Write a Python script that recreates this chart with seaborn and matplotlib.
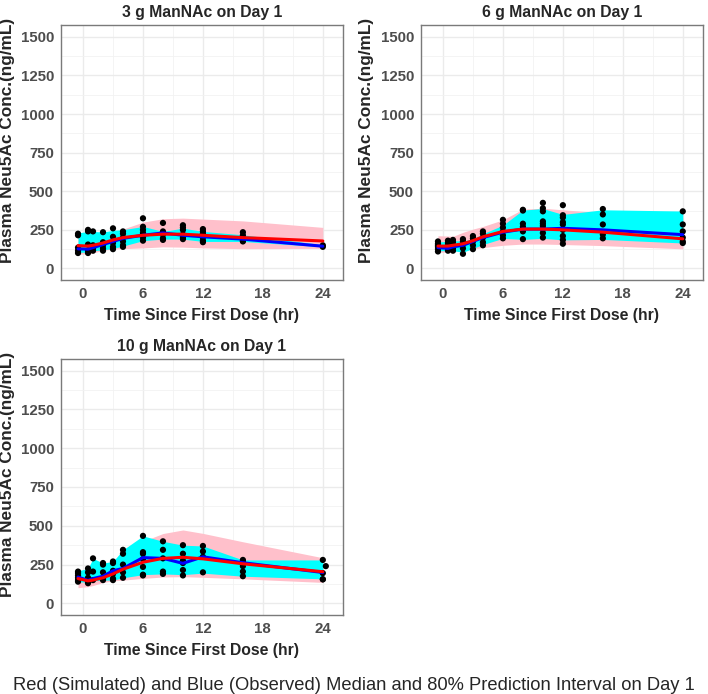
import pandas as pd
import matplotlib
matplotlib.use("Agg")
import matplotlib.pyplot as plt
from matplotlib.ticker import MultipleLocator
import seaborn as sns

# Sampling times (hr) for the median / interval curves
times = [-0.5, 0.5, 1, 2, 3, 4, 6, 8, 10, 12, 16, 24]

# 3 g panel
obs_3g = {
    -0.5: [225, 215, 135, 115, 100], 0.5: [250, 240, 155, 115, 100],
    1: [240, 150, 130, 115], 2: [235, 170, 150, 130, 115],
    3: [260, 205, 165, 140, 125], 4: [240, 225, 200, 175, 150, 140],
    6: [325, 270, 250, 230, 200, 180], 8: [295, 240, 220, 195, 185],
    10: [280, 265, 250, 220, 200, 190], 12: [255, 240, 225, 200, 180, 170],
    16: [235, 215, 180, 175], 24: [150, 140],
}
sim_lo_3g = [92, 95, 100, 118, 125, 128, 133, 140, 138, 133, 128, 130]
sim_hi_3g = [200, 200, 205, 215, 230, 255, 300, 322, 326, 320, 308, 266]
obs_lo_3g = [105, 105, 115, 120, 130, 145, 180, 190, 190, 175, 175, 140]
obs_hi_3g = [230, 240, 240, 236, 247, 251, 272, 240, 261, 240, 218, 154]
obs_med_3g = [127, 125, 135, 155, 175, 195, 215, 230, 215, 205, 190, 144]
sim_med_3g = [148, 145, 150, 165, 185, 200, 215, 222, 222, 215, 200, 178]

# 6 g panel
obs_6g = {
    -0.5: [175, 160, 150, 140, 125, 110], 0.5: [180, 165, 150, 130, 115],
    1: [185, 170, 150, 130, 115], 2: [190, 175, 155, 130, 95],
    3: [210, 195, 175, 150, 125], 4: [240, 225, 200, 170, 150],
    6: [315, 290, 265, 240, 215, 195], 8: [380, 375, 290, 270, 240, 190],
    10: [425, 390, 370, 305, 290, 275, 255, 230, 200],
    12: [410, 345, 330, 300, 285, 250, 210, 185, 160],
    16: [385, 350, 285, 220, 195], 24: [370, 285, 240, 200, 175, 165],
}
sim_lo_6g = [103, 108, 110, 115, 125, 135, 150, 158, 158, 155, 148, 127]
sim_hi_6g = [212, 210, 208, 234, 255, 272, 315, 384, 390, 380, 360, 330]
obs_lo_6g = [115, 115, 115, 105, 130, 155, 195, 188, 195, 185, 188, 165]
obs_hi_6g = [172, 175, 180, 178, 192, 225, 280, 378, 388, 350, 380, 372]
obs_med_6g = [135, 130, 140, 150, 175, 200, 235, 255, 255, 260, 250, 219]
sim_med_6g = [145, 145, 150, 160, 180, 205, 240, 255, 255, 250, 235, 192]

# 10 g panel
obs_10g = {
    -0.5: [205, 195, 180, 165, 150, 140], 0.5: [225, 200, 165, 140, 130],
    1: [290, 205, 150], 2: [260, 250, 200, 160, 150],
    3: [270, 260, 210, 190, 160, 150], 4: [345, 320, 250, 200, 165],
    6: [435, 330, 320, 285, 235, 185, 180], 8: [400, 345, 290, 205, 190],
    10: [375, 320, 275, 260, 215, 180], 12: [370, 335, 300, 200],
    16: [280, 270, 240, 205, 175], 24: [280, 195, 155, 155],
}
obs_10g_late = [240]  # single sample drawn slightly after 24 hr
sim_lo_10g = [101, 108, 115, 135, 145, 150, 161, 170, 172, 168, 158, 135]
sim_hi_10g = [190, 192, 200, 230, 270, 320, 400, 450, 473, 451, 397, 294]
obs_lo_10g = [140, 135, 145, 150, 150, 165, 185, 190, 185, 195, 175, 158]
obs_hi_10g = [210, 225, 290, 260, 270, 345, 435, 400, 375, 370, 280, 280]
obs_med_10g = [170, 148, 160, 175, 210, 225, 295, 290, 258, 300, 262, 199]
sim_med_10g = [160, 145, 150, 165, 190, 220, 265, 290, 297, 287, 255, 204]

titles = ["3 g ManNAc on Day 1", "6 g ManNAc on Day 1", "10 g ManNAc on Day 1"]
caption = "Red (Simulated) and Blue (Observed) Median and 80% Prediction Interval on Day 1"

panels = [
    (obs_3g, [], sim_lo_3g, sim_hi_3g, obs_lo_3g, obs_hi_3g, obs_med_3g, sim_med_3g),
    (obs_6g, [], sim_lo_6g, sim_hi_6g, obs_lo_6g, obs_hi_6g, obs_med_6g, sim_med_6g),
    (obs_10g, obs_10g_late, sim_lo_10g, sim_hi_10g, obs_lo_10g, obs_hi_10g, obs_med_10g, sim_med_10g),
]

sns.set_theme(style="whitegrid")
plt.rcParams["font.family"] = ["Liberation Sans", "DejaVu Sans"]

fig = plt.figure(figsize=(7.08, 6.94), dpi=100)
boxes = [
    [0.0862, 0.5965, 0.398, 0.367],
    [0.5946, 0.5965, 0.398, 0.367],
    [0.0862, 0.1138, 0.398, 0.369],
]

for box, title, (obs, late, slo, shi, olo, ohi, omed, smed) in zip(boxes, titles, panels):
    ax = fig.add_axes(box)
    rows = [(t, v) for t, vals in obs.items() for v in vals] + [(24.3, v) for v in late]
    pts = pd.DataFrame(rows, columns=["time", "conc"])

    ax.fill_between(times, slo, shi, color="#FFC0CB", lw=0, zorder=1)
    ax.fill_between(times, olo, ohi, color="#00FFFF", lw=0, zorder=1.5)
    sns.scatterplot(data=pts, x="time", y="conc", color="black", s=20,
                    edgecolor="none", ax=ax, zorder=3)
    sns.lineplot(x=times, y=omed, color="#0000FF", lw=2.2, ax=ax, zorder=4)
    sns.lineplot(x=times, y=smed, color="#FF0000", lw=2.2, ax=ax, zorder=5)

    ax.set_xlim(-2.2, 26)
    ax.set_ylim(-75, 1575)
    ax.set_xticks([0, 6, 12, 18, 24])
    ax.set_yticks([0, 250, 500, 750, 1000, 1250, 1500])
    ax.xaxis.set_minor_locator(MultipleLocator(3))
    ax.yaxis.set_minor_locator(MultipleLocator(125))
    ax.grid(which="major", color="#EBEBEB", lw=1.0)
    ax.grid(which="minor", color="#F2F2F2", lw=0.6)
    ax.set_axisbelow(True)
    for s in ax.spines.values():
        s.set_color("#7A7A7A")
        s.set_linewidth(1.0)
    ax.tick_params(which="major", length=3, width=0.8, color="#555555",
                   labelsize=10.8, labelcolor="#4D4D4D", pad=2)
    ax.tick_params(which="minor", length=0)
    for lab in ax.get_xticklabels() + ax.get_yticklabels():
        lab.set_fontweight("bold")
    ax.set_title(title, fontsize=11.3, fontweight="bold", pad=6)
    ax.set_xlabel("Time Since First Dose (hr)", fontsize=11.3,
                  fontweight="bold", labelpad=5)
    ax.set_ylabel("Plasma Neu5Ac Conc.(ng/mL)", fontsize=12.4,
                  fontweight="bold")
    ax.yaxis.set_label_coords(-0.165, 0.55)

fig.text(0.5, 1 - 686 / 694, caption, ha="center", va="center",
         fontsize=13.2)

fig.savefig("out.png", dpi=100)
